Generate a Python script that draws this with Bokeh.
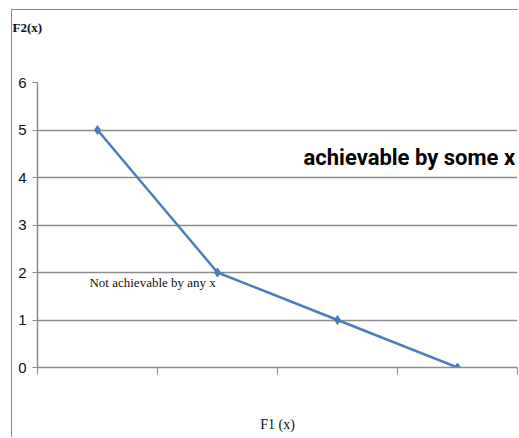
from bokeh.plotting import figure
from bokeh.models import FixedTicker, Label, Range1d, CustomJSTickFormatter, Title
from bokeh.embed import file_html
from bokeh.resources import INLINE

# data
categories = [1, 2, 3, 4]
f2_values = [5, 2, 1, 0]
y_ticks = [0, 1, 2, 3, 4, 5, 6]
x_ticks = [0.5, 1.5, 2.5, 3.5, 4.5]

GRID = "#8c8c8c"

p = figure(width=507, height=428, output_backend="svg", toolbar_location=None,
           x_range=Range1d(0.5, 4.5), y_range=Range1d(0, 6),
           min_border_left=25, min_border_right=2, min_border_top=72, min_border_bottom=71,
           title="F2(x)")
p.margin = (9, 0, 0, 11)
p.styles = {"border-left": "1px solid #8a8a8a", "border-top": "1px solid #8a8a8a"}
p.outline_line_color = None
p.background_fill_color = "white"
p.border_fill_color = "white"

# spacer between the plot area and the caption
p.add_layout(Title(text=" ", text_font_size="1px", standoff=43), "above")

# title used as the y-axis caption at top-left
p.title.align = "left"
p.title.vertical_align = "top"
p.title.offset = -25
p.title.standoff = 0
p.title.text_font = "Liberation Serif"
p.title.text_font_style = "bold"
p.title.text_font_size = "13px"
p.title.text_color = "#111111"

# x axis: category-style ticks between points, no labels
p.xaxis.ticker = FixedTicker(ticks=x_ticks)
p.xaxis.formatter = CustomJSTickFormatter(code="return ''")
p.xaxis.major_tick_out = 7
p.xaxis.major_tick_in = 0
p.xaxis.minor_tick_line_color = None
p.xaxis.axis_line_color = GRID
p.xaxis.major_tick_line_color = GRID
p.xaxis.axis_line_width = 1.5
p.xaxis.axis_label = "F1 (x)"
p.xaxis.axis_label_text_font = "Liberation Serif"
p.xaxis.axis_label_text_font_style = "normal"
p.xaxis.axis_label_text_font_size = "14px"
p.xaxis.axis_label_text_color = "#111111"
p.xaxis.axis_label_standoff = 42
p.xgrid.visible = False

# y axis
p.yaxis.ticker = FixedTicker(ticks=y_ticks)
p.yaxis.major_tick_out = 5
p.yaxis.major_tick_in = 0
p.yaxis.minor_tick_line_color = None
p.yaxis.axis_line_color = GRID
p.yaxis.major_tick_line_color = GRID
p.yaxis.axis_line_width = 1.5
p.yaxis.major_label_standoff = 6
p.yaxis.major_label_text_font = "Liberation Sans"
p.yaxis.major_label_text_font_size = "15px"
p.yaxis.major_label_text_color = "#111111"
p.ygrid.grid_line_color = GRID
p.ygrid.grid_line_width = 1.5

# series
p.line(categories, f2_values, line_color="#4a7ebb", line_width=2.5)
p.scatter(categories, f2_values, marker="diamond", size=9,
          fill_color="#4a7ebb", line_color="#4a7ebb")

# annotation texts inside the plot area
p.add_layout(Label(x=0.933, y=1.78, text="Not achievable by any x",
                   text_font="Liberation Serif", text_font_size="13px",
                   text_baseline="middle", text_color="#111111"))
p.add_layout(Label(x=2.717, y=4.42, text="achievable by some x",
                   text_font="Roboto", text_font_style="bold",
                   text_font_size="22px", text_baseline="middle", text_color="#000000"))

open("out.html", "w").write(file_html(p, INLINE))
